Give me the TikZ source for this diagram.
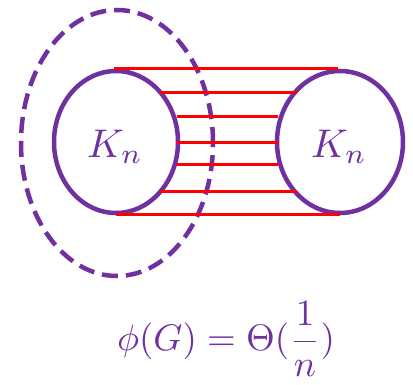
\documentclass[tikz,border=0pt]{standalone}
\usepackage{graphicx}
\usetikzlibrary{shapes.geometric}
\definecolor{kpurple}{HTML}{7030A0}
\definecolor{kred}{HTML}{FF0000}
\begin{document}
\begin{tikzpicture}[x=1pt,y=-1pt,
  blob/.style={ellipse,draw=kpurple,line width=4.5pt,inner sep=0pt,
    minimum width=124pt,minimum height=142pt},
  cut/.style={ellipse,draw=kpurple,line width=4.5pt,inner sep=0pt,
    dash pattern=on 16pt off 8pt,minimum width=192pt,minimum height=266pt},
  lab/.style={text=kpurple,inner sep=0pt},
  edge/.style={draw=kred,line width=3pt}]
\useasboundingbox (0,0) rectangle (413,385);
\node[cut] (S) at (117,143) {};
\node[blob] (L) at (116,142) {};
\node[blob,minimum width=126pt] (R) at (340,142) {};
\node[lab] (LK) at (115,147) {\scalebox{4}{$K_n$}};
\node[lab] (RK) at (339,147) {\scalebox{4}{$K_n$}};
\foreach \i/\y/\xa/\xb in {1/69/114/338,2/93/160/297,3/117/177/278,4/143/177/278,5/165/177/278,6/192/160/297,7/215/116/340}{
  \coordinate (a\i) at (\xa,\y);
  \coordinate (b\i) at (\xb,\y);
  \draw[edge] (a\i) -- (b\i);
}
\node[lab] (F) at (226,339)
  {\scalebox{3.7}{$\phi(G) = \Theta(\displaystyle\frac{1}{n})$}};
\end{tikzpicture}
\end{document}
